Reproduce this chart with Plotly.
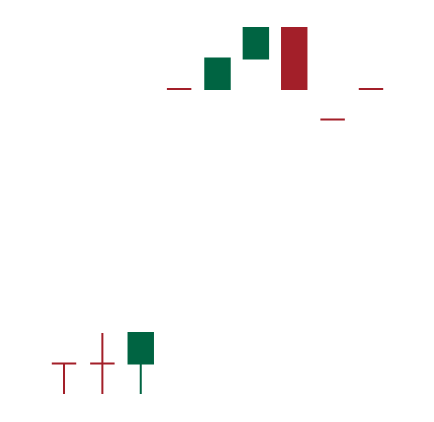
import plotly.graph_objects as go

x_vals = [0, 1, 2, 3, 4, 5, 6, 7, 8]
open_vals = [1, 1, 1, 10, 10, 11, 12, 9, 10]
high_vals = [1, 2, 2, 10, 11, 12, 12, 9, 10]
low_vals = [0, 0, 0, 10, 10, 11, 10, 9, 10]
close_vals = [1, 1, 2, 10, 11, 12, 10, 9, 10]

inc_color = "#006442"
dec_color = "#a31f29"

fig = go.Figure()
for want_up, color in [(False, dec_color), (True, inc_color)]:
    idx = [i for i in range(len(x_vals)) if (close_vals[i] > open_vals[i]) == want_up]
    fig.add_trace(go.Candlestick(
        x=[x_vals[i] for i in idx],
        open=[open_vals[i] for i in idx],
        high=[high_vals[i] for i in idx],
        low=[low_vals[i] for i in idx],
        close=[close_vals[i] for i in idx],
        increasing=dict(line=dict(color=color, width=2), fillcolor=color),
        decreasing=dict(line=dict(color=color, width=2), fillcolor=color),
        whiskerwidth=0,
    ))
fig.update_layout(
    width=434, height=422,
    margin=dict(l=10, r=10, t=10, b=10),
    paper_bgcolor="white", plot_bgcolor="white",
    showlegend=False,
    boxgap=0.09,
    xaxis=dict(visible=False, range=[-1.199, 9.59], rangeslider=dict(visible=False)),
    yaxis=dict(visible=False, range=[-0.852, 12.328]),
)
fig.write_html("out.html")
